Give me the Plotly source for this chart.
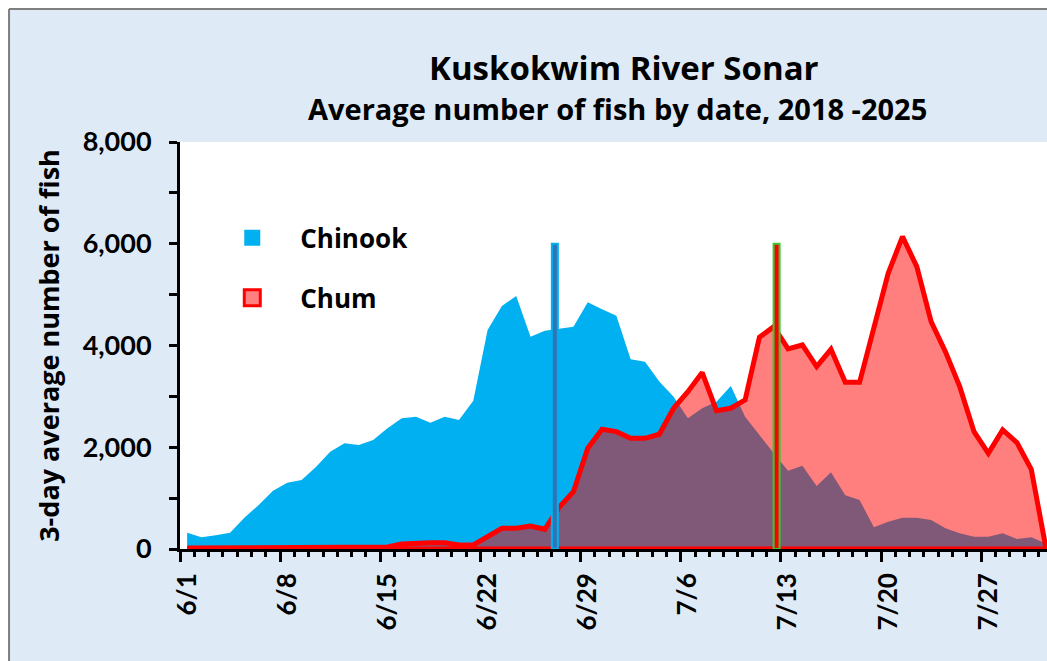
import plotly.graph_objects as go

# ---------------- data ----------------
# day index 0 = 6/1 ... 60 = 7/31
day_index = list(range(61))

tick_labels = ["6/1", "6/8", "6/15", "6/22", "6/29", "7/6", "7/13", "7/20", "7/27"]
tick_label_days = [0, 7, 14, 21, 28, 35, 42, 49, 56]

chinook = [320, 230, 270, 320, 616, 865, 1146, 1300, 1357, 1612,
           1913, 2077, 2045, 2143, 2372, 2569, 2601, 2483, 2601, 2536,
           2916, 4305, 4777, 4974, 4174, 4292, 4330, 4370, 4850, 4712,
           4587, 3729, 3683, 3290, 2994, 2569, 2766, 2896, 3205, 2601,
           2241, 1881, 1540, 1638, 1239, 1508, 1056, 963, 426, 537,
           616, 616, 570, 406, 308, 242, 242, 308, 196, 229,
           111]

chum = [20, 20, 20, 20, 20, 25, 25, 25, 25, 30,
        30, 30, 30, 30, 40, 100, 124, 124, 124, 79,
        79, 242, 406, 406, 452, 387, 820, 1127, 1980, 2353,
        2307, 2176, 2176, 2255, 2766, 3093, 3467, 2719, 2766, 2929,
        4162, 4370, 3932, 4010, 3584, 3925, 3277, 3277, 4370, 5420,
        6140, 5550, 4469, 3879, 3191, 2306, 1881, 2340, 2090, 1567,
        60]

# vertical marker bars
marker_days = [25.7, 41.2]
marker_values = [6000, 6000]

y_tick_values = [0, 1000, 2000, 3000, 4000, 5000, 6000, 7000, 8000]
y_tick_text = ["0", "", "2,000", "", "4,000", "", "6,000", "", "8,000"]

# ---------------- style ----------------
FONT = "Lato, 'Open Sans', Arial, sans-serif"
TFONT = "'Open Sans', Lato, Arial, sans-serif"
BG = "#deeaf6"

fig = go.Figure()

fig.add_trace(go.Scatter(
    x=day_index, y=chinook, mode="none", fill="tozeroy",
    fillcolor="#00b0f0", showlegend=False, hoverinfo="skip"))

fig.add_trace(go.Scatter(
    x=day_index + [day_index[-1], day_index[0]], y=chum + [0, 0],
    mode="lines", fill="toself", fillcolor="rgba(255,0,0,0.5)",
    line=dict(color="#ff0000", width=5), showlegend=False, hoverinfo="skip"))

fig.add_trace(go.Bar(
    x=[marker_days[0]], y=[marker_values[0]], width=0.42,
    marker=dict(color="#2e75b6", line=dict(color="#00b0f0", width=2)),
    xaxis="x2", yaxis="y", showlegend=False, hoverinfo="skip"))
fig.add_trace(go.Bar(
    x=[marker_days[1]], y=[marker_values[1]], width=0.42,
    marker=dict(color="#ff0000", line=dict(color="#33cc33", width=2)),
    xaxis="x2", yaxis="y", showlegend=False, hoverinfo="skip"))

# legend entries
fig.add_trace(go.Scatter(
    x=[None], y=[None], mode="markers", name="Chinook", legendgroup="a",
    marker=dict(symbol="square", size=16, color="#00b0f0")))
fig.add_trace(go.Scatter(
    x=[None], y=[None], mode="markers", name="Chum", legendgroup="b",
    marker=dict(symbol="square", size=16, color="#ff8080",
                line=dict(color="#ff0000", width=3))))

major_ticks = [d - 0.5 for d in range(0, 61, 7)]
x_range = [-0.5, 60.1]

fig.update_layout(
    width=1047, height=661,
    margin=dict(l=180, r=0, t=142, b=112),
    paper_bgcolor=BG, plot_bgcolor="white",
    barmode="overlay",
    font=dict(family=FONT, color="black"),
    legend=dict(x=0.028, y=0.822, xanchor="left", yanchor="top",
                bgcolor="rgba(0,0,0,0)", traceorder="grouped",
                tracegroupgap=23, itemwidth=86,
                font=dict(family=TFONT, size=26, color="black", weight="bold")),
    xaxis=dict(range=x_range, showgrid=False, zeroline=False,
               tickmode="array", tickvals=major_ticks, showticklabels=False,
               ticks="outside", ticklen=10, tickwidth=3, tickcolor="black",
               showline=True, linecolor="black", linewidth=3,
               minor=dict(tickmode="linear", tick0=-0.5, dtick=1,
                          ticks="outside", ticklen=5, tickwidth=3,
                          tickcolor="black")),
    xaxis2=dict(range=x_range, overlaying="x", anchor="y", side="bottom",
                showgrid=False, zeroline=False, showline=False,
                tickmode="array", tickvals=tick_label_days, ticktext=tick_labels,
                ticks="", tickangle=-90, ticklabelstandoff=18,
                tickfont=dict(family=FONT, size=26, color="black", weight="bold")),
    yaxis=dict(range=[0, 8000], showgrid=False, zeroline=False,
               tickmode="array", tickvals=y_tick_values, ticktext=y_tick_text,
               ticks="outside", ticklen=8, tickwidth=3, tickcolor="black",
               showline=True, linecolor="black", linewidth=3,
               ticklabelstandoff=12,
               tickfont=dict(family=FONT, size=27, color="black", weight="bold"),
               title=dict(text="3-day average number of fish", standoff=16,
                          font=dict(family=TFONT, size=27, color="black",
                                    weight="bold"))),
    annotations=[
        dict(text="<b>Kuskokwim River Sonar</b>", xref="paper", yref="paper",
             x=0.512, y=1.184, xanchor="center", yanchor="middle",
             showarrow=False, font=dict(family=TFONT, size=33, color="black")),
        dict(text="<b>Average number of fish by date, 2018 -2025</b>",
             xref="paper", yref="paper", x=0.505, y=1.0835,
             xanchor="center", yanchor="middle", showarrow=False,
             font=dict(family=TFONT, size=29, color="black")),
    ],
    shapes=[
        dict(type="rect", xref="paper", yref="paper", x0=-0.3, x1=1.2,
             y0=1.3268, y1=1.5, fillcolor="white", line=dict(width=0),
             layer="above"),
        dict(type="rect", xref="paper", yref="paper", x0=-0.3, x1=-0.1972,
             y0=-0.5, y1=1.5, fillcolor="white", line=dict(width=0),
             layer="above"),
        dict(type="line", xref="paper", yref="paper", x0=-0.1972, x1=1.2,
             y0=1.3268, y1=1.3268, line=dict(color="#7f7f7f", width=2)),
        dict(type="line", xref="paper", yref="paper", x0=-0.1972, x1=-0.1972,
             y0=-0.5, y1=1.3268, line=dict(color="#7f7f7f", width=2)),
    ],
)

fig.write_html(
    "out.html",
    config={"displayModeBar": False},
    post_script="document.body.style.margin='0';document.body.style.overflow='hidden';",
)
